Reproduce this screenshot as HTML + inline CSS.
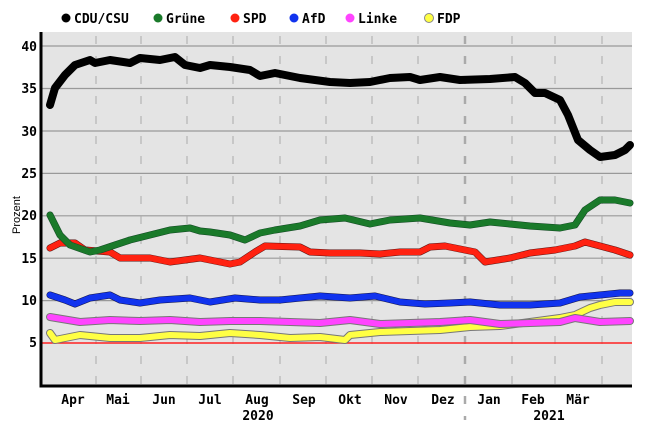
<!DOCTYPE html>
<html><head><meta charset="utf-8"><style>
body{margin:0;background:#fff}
svg{display:block;font-family:"DejaVu Sans Mono","Liberation Mono",monospace;font-weight:bold}
</style></head><body>
<svg width="649" height="432" viewBox="0 0 649 432">
<rect x="41" y="32" width="591" height="354" fill="#e4e4e4"/>
<g stroke="#999" stroke-width="1.2">
<line x1="41" x2="632" y1="46" y2="46"/><line x1="41" x2="632" y1="88.5" y2="88.5"/><line x1="41" x2="632" y1="131" y2="131"/><line x1="41" x2="632" y1="173.4" y2="173.4"/><line x1="41" x2="632" y1="215.8" y2="215.8"/><line x1="41" x2="632" y1="258.2" y2="258.2"/><line x1="41" x2="632" y1="300.6" y2="300.6"/>
</g>
<g stroke="#aaa" stroke-width="1" stroke-dasharray="8,12">
<line x1="96" x2="96" y1="36" y2="396"/><line x1="141" x2="141" y1="36" y2="396"/><line x1="187" x2="187" y1="36" y2="396"/><line x1="233" x2="233" y1="36" y2="396"/><line x1="280" x2="280" y1="36" y2="396"/><line x1="326" x2="326" y1="36" y2="396"/><line x1="372" x2="372" y1="36" y2="396"/><line x1="418" x2="418" y1="36" y2="396"/><line x1="465" x2="465" y1="36" y2="420" stroke-width="2.5"/><line x1="512" x2="512" y1="36" y2="396"/><line x1="555" x2="555" y1="36" y2="396"/><line x1="602" x2="602" y1="36" y2="396"/>
</g>
<line x1="41" x2="632" y1="343" y2="343" stroke="#f22" stroke-width="1.5"/>
<path d="M41 32V386H632" fill="none" stroke="#000" stroke-width="3"/>
<g font-size="13" text-anchor="end" fill="#000">
<text x="37" y="51">40</text><text x="37" y="93">35</text><text x="37" y="136">30</text><text x="37" y="178">25</text><text x="37" y="220">20</text><text x="37" y="263">15</text><text x="37" y="305">10</text><text x="37" y="347">5</text>
</g>
<text x="20" y="215" font-size="11" font-weight="normal" font-family="Liberation Sans,sans-serif" transform="rotate(-90 20 215)" text-anchor="middle">Prozent</text>
<g font-size="13" text-anchor="middle">
<text x="73" y="404">Apr</text><text x="118" y="404">Mai</text><text x="164" y="404">Jun</text><text x="210" y="404">Jul</text><text x="257" y="404">Aug</text><text x="304" y="404">Sep</text><text x="350" y="404">Okt</text><text x="396" y="404">Nov</text><text x="443" y="404">Dez</text><text x="489" y="404">Jan</text><text x="533" y="404">Feb</text><text x="578" y="404">Mär</text>
<text x="258" y="420">2020</text><text x="549" y="420">2021</text>
</g>
<g fill="none" stroke-linejoin="round" stroke-linecap="round">
<path stroke="#777" stroke-width="8" d="M50 333 55 340 80 335 110 338 140 338 170 335 200 336 230 333 260 335 290 338 320 337 345 340 350 335 380 332 410 331 440 330 470 327 500 326 530 322 560 318 575 315 590 308 600 305 615 302 630 302"/>
<path stroke="#ff4" stroke-width="6" d="M50 333 55 340 80 335 110 338 140 338 170 335 200 336 230 333 260 335 290 338 320 337 345 340 350 335 380 332 410 331 440 330 470 327 500 326 530 322 560 318 575 315 590 308 600 305 615 302 630 302"/>
<path stroke="#777" stroke-width="8" d="M50 317 80 322 110 320 140 321 170 320 200 322 230 321 260 321 290 322 320 323 350 320 380 324 410 323 440 322 470 320 500 324 530 323 560 322 575 318 600 322 630 321"/>
<path stroke="#f4f" stroke-width="6" d="M50 317 80 322 110 320 140 321 170 320 200 322 230 321 260 321 290 322 320 323 350 320 380 324 410 323 440 322 470 320 500 324 530 323 560 322 575 318 600 322 630 321"/>
<path stroke="#114" stroke-width="7" d="M50 295 65 300 75 304 90 298 110 295 120 300 140 303 160 300 190 298 210 302 235 298 260 300 280 300 300 298 320 296 350 298 375 296 400 302 425 304 450 303 470 302 500 305 530 305 560 303 580 297 600 295 620 293 630 293"/>
<path stroke="#1133ee" stroke-width="6" d="M50 295 65 300 75 304 90 298 110 295 120 300 140 303 160 300 190 298 210 302 235 298 260 300 280 300 300 298 320 296 350 298 375 296 400 302 425 304 450 303 470 302 500 305 530 305 560 303 580 297 600 295 620 293 630 293"/>
<path stroke="#511" stroke-width="7" d="M50 248 60 243 75 243 85 250 110 252 120 258 150 258 170 262 200 258 230 264 240 262 255 252 265 246 300 247 310 252 330 253 360 253 380 254 400 252 420 252 430 247 445 246 475 252 485 262 510 258 530 253 555 250 575 246 585 242 600 246 615 250 630 255"/>
<path stroke="#f21" stroke-width="6" d="M50 248 60 243 75 243 85 250 110 252 120 258 150 258 170 262 200 258 230 264 240 262 255 252 265 246 300 247 310 252 330 253 360 253 380 254 400 252 420 252 430 247 445 246 475 252 485 262 510 258 530 253 555 250 575 246 585 242 600 246 615 250 630 255"/>
<path stroke="#142" stroke-width="7" d="M50 215 60 235 70 245 90 252 100 250 115 245 130 240 150 235 170 230 190 228 200 231 210 232 230 235 245 240 260 233 275 230 300 226 320 220 345 218 370 224 390 220 420 218 450 223 470 225 490 222 510 224 530 226 560 228 575 225 585 210 600 200 615 200 630 203"/>
<path stroke="#1a7a2a" stroke-width="6" d="M50 215 60 235 70 245 90 252 100 250 115 245 130 240 150 235 170 230 190 228 200 231 210 232 230 235 245 240 260 233 275 230 300 226 320 220 345 218 370 224 390 220 420 218 450 223 470 225 490 222 510 224 530 226 560 228 575 225 585 210 600 200 615 200 630 203"/>
<path stroke="#000" stroke-width="8" d="M50 105 55 88 65 75 75 65 90 60 95 63 110 60 130 63 140 58 160 60 175 57 185 65 200 68 210 65 230 67 250 70 260 76 275 73 300 78 330 82 350 83 370 82 390 78 410 77 420 80 440 77 460 80 490 79 515 77 525 83 535 93 545 93 560 100 568 115 578 140 590 150 600 157 615 155 625 150 630 145"/>
</g>
<g font-size="13">
<circle cx="66" cy="18" r="4.5" fill="#000"/><text x="74" y="23">CDU/CSU</text>
<circle cx="158" cy="18" r="4.5" fill="#1a7a2a"/><text x="166" y="23">Grüne</text>
<circle cx="235" cy="18" r="4.5" fill="#f21"/><text x="243" y="23">SPD</text>
<circle cx="294" cy="18" r="4.5" fill="#1133ee"/><text x="302" y="23">AfD</text>
<circle cx="350" cy="18" r="4.5" fill="#f4f"/><text x="358" y="23">Linke</text>
<circle cx="429" cy="18" r="4.5" fill="#ff4" stroke="#888"/><text x="437" y="23">FDP</text>
</g>
</svg>
</body></html>
